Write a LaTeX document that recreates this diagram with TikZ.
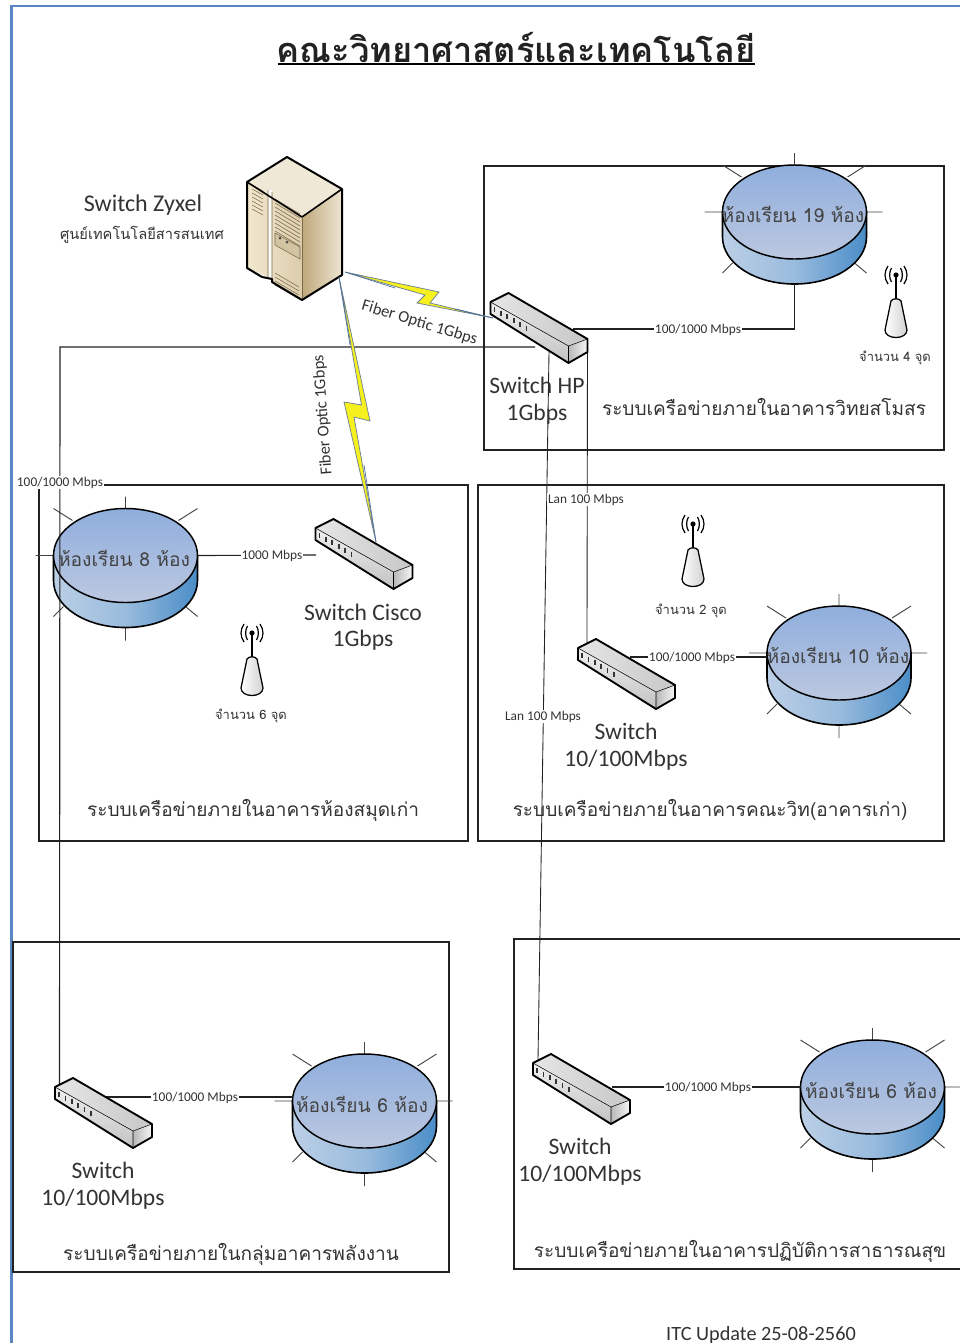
\documentclass[tikz,border=0pt]{standalone}
\usepackage{fontspec}
\setmainfont{Carlito}
\newfontfamily\thaifont[Script=Thai]{Loma}
\definecolor{ink}{HTML}{222222}
\definecolor{txt}{HTML}{333333}
\definecolor{framec}{HTML}{5B86C4}
\definecolor{diskt}{HTML}{8FAEDD}
\definecolor{diskb}{HTML}{BCC8E0}
\definecolor{sidel}{HTML}{BBCFE6}
\definecolor{sider}{HTML}{4A8DC8}
\definecolor{boltc}{HTML}{F5F01E}
\definecolor{boltl}{HTML}{6F8290}
\definecolor{srvtop}{HTML}{EFE8D6}
\definecolor{srvfl}{HTML}{F2E8CF}
\definecolor{srvfr}{HTML}{DCCDAC}
\definecolor{srvrl}{HTML}{BFA97C}
\definecolor{srvrr}{HTML}{EDE5D2}
\definecolor{srvln}{HTML}{7A6A4A}
\tikzset{
  x=0.75pt,y=-0.75pt,
  boxn/.style={draw=ink,line width=0.85pt},
  conn/.style={draw=ink,line width=0.85pt},
  lab/.style={font=\fontsize{10}{11}\selectfont,text=txt,fill=white,inner sep=0.6pt},
  sname/.style={font=\fontsize{17.7}{20}\selectfont,text=txt,inner sep=0pt,align=center},
  room/.style={font=\thaifont\fontsize{14.4}{16}\selectfont,text=ink!85,inner sep=0pt},
  sys/.style={font=\thaifont\fontsize{14.3}{16}\selectfont,text=txt,inner sep=0pt},
  count/.style={font=\thaifont\fontsize{9.7}{11}\selectfont,text=txt,inner sep=0pt},
  bolt/.style={draw=boltl,line width=0.55pt,fill=boltc,line join=miter},
  swicon/.pic={
    \coordinate (-c) at (0,0);
    \shade[top color=black!6,bottom color=black!24] (-48,-27) -- (30,17) -- (30,34) -- (-48,-15) -- cycle;
    \shade[left color=black!10,right color=black!22] (-48,-27) -- (-30,-36) -- (49,10) -- (30,17) -- cycle;
    \shade[left color=black!28,right color=black!3] (30,17) -- (49,10) -- (49,23) -- (30,34) -- cycle;
    \draw[black,line width=0.4pt] (-48,-27) -- (30,17) -- (30,34) (30,17) -- (49,10);
    \draw[black,line width=1.4pt,line join=round] (-48,-27) -- (-30,-36) -- (49,10) -- (49,23) -- (30,34) -- (-48,-15) -- cycle;
    \foreach \k in {0,...,5}{\draw[black!80,line width=1.3pt] (-44+6.4*\k,-22+3.7*\k) -- ++(0,5);}
  },
  diskicon/.pic={
    \draw[ink!85,line width=0.7pt]
      (0,-59) -- (0,-47) (-72,-47) -- (-53,-35) (72,-47) -- (53,-35)
      (-90,0) -- (-72,0) (72,0) -- (88,0)
      (-72,61) -- (-62,51) (72,61) -- (60,51) (0,72) -- (0,85);
    \coordinate (-s) at (0,72); \coordinate (-w) at (-72,0); \coordinate (-e) at (72,0);
    \shade[left color=sidel,right color=sider,middle color=sidel!70!sider,draw=black,line width=1.2pt]
      (-72,0) -- (-72,25) .. controls (-72,51) and (-40,72) .. (0,72) .. controls (40,72) and (72,51) .. (72,25) -- (72,0) -- cycle;
    \shade[top color=diskt,bottom color=diskb,draw=black,line width=1.1pt]
      (-72,0) .. controls (-72,-26) and (-40,-47) .. (0,-47) .. controls (40,-47) and (72,-26) .. (72,0)
      .. controls (72,26) and (40,47) .. (0,47) .. controls (-40,47) and (-72,26) .. (-72,0) -- cycle;
  },
  anticon/.pic={
    \draw[black,line width=0.9pt] (-4.5,-7) .. controls (-7,-3) and (-7,3) .. (-4.5,7)
      (-8,-9) .. controls (-12,-3) and (-12,3) .. (-8,9)
      (4.5,-7) .. controls (7,-3) and (7,3) .. (4.5,7)
      (8,-9) .. controls (12,-3) and (12,3) .. (8,9);
    \draw[black,line width=1.1pt] (0,0) -- (0,26);
    \fill[black] (0,0) circle[radius=2.6];
    \shade[left color=white,right color=black!18,draw=black,line width=0.95pt]
      (-5,26) .. controls (-3,23) and (3,23) .. (5,26) -- (11,55) .. controls (11,65) and (-11,65) .. (-11,55) -- cycle;
  },
  servericon/.pic={
    \shade[left color=srvfl,right color=srvfr]
      (247,182) -- (302,217) -- (302,300) -- (272,282) -- (272,279) -- (247,268) -- cycle;
    \path[fill=srvtop] (287,157) -- (342,189) -- (302,217) -- (247,182) -- cycle;
    \shade[left color=srvrl,right color=srvrr]
      (302,217) -- (342,189) -- (342,275) -- (302,300) -- cycle;
    \fill[white!92!srvfl] (268,190) rectangle (272,279);
    \draw[srvln,line width=0.4pt]
      foreach \k in {0,...,6}{(252,185+4*\k) -- (263,191+4*\k)}
      foreach \k in {0,...,9}{(275,199+4*\k) -- (300,214+4*\k)}
      foreach \k in {0,...,3}{(275,273+4*\k) -- (299,287+4*\k)}
      (268,190) -- (268,279) (272,192) -- (272,279);
    \draw[srvln,line width=0.4pt,fill=srvrl!70!white] (275,233) -- (300,247) -- (300,259) -- (275,245) -- cycle;
    \fill[black!70] (280,238) circle[radius=1.5] (287,242) circle[radius=1.5];
    \draw[black,line width=1.2pt] (247,182) -- (302,217) -- (342,189);
    \draw[srvln,line width=0.6pt] (302,217) -- (302,300);
    \draw[black,line width=1.5pt,line join=round] (287,157) -- (342,189) -- (342,275) -- (302,300) -- (272,282) -- (272,279) -- (262,277) -- (247,268) -- (247,182) -- cycle;
  }
}
\begin{document}
\begin{tikzpicture}
\useasboundingbox (0,0) rectangle (960,1343);
\clip (0,0) rectangle (960,1343);
\fill[white] (0,0) rectangle (960,1343);
% page frame
\draw[framec,line width=1.9pt] (11.5,1350) -- (11.5,6) -- (970,6);
% building boxes
\draw[boxn] (484,166) rectangle (944,450);
\draw[boxn] (39,485) rectangle (468,841);
\draw[boxn] (478,485) rectangle (944,841);
\draw[boxn] (13,942) rectangle (449,1272);
\draw[boxn] (514,939) rectangle (975,1269);
% anchors
\coordinate (srvA) at (345,272);
\coordinate (srvB) at (339,277);
\coordinate (hpIn) at (493,318);
\coordinate (hpE) at (573,329);
\coordinate (hpW) at (535,347);
\coordinate (hpS1) at (549,352);
\coordinate (hpS2) at (587.5,340);
\coordinate (ciscoIn) at (376,542);
\coordinate (ciscoW) at (316,555);
\coordinate (cornerA) at (60,347);
\coordinate (swLin) at (59.5,1084);
\coordinate (swLe) at (100,1097);
\coordinate (swRin) at (538,1060);
\coordinate (swRe) at (612,1087);
\coordinate (swMin) at (587,645);
\coordinate (swMe) at (630,657);
% disks
\pic (r19) at (794.5,212) {diskicon};
\pic (r8) at (125.5,555.5) {diskicon};
\pic (r10) at (839,653) {diskicon};
\pic (r6a) at (364.5,1101) {diskicon};
\pic (r6b) at (872.5,1087) {diskicon};
% connectors
\draw[conn] (hpW) -- (cornerA) -- (swLin);
\draw[conn] (hpE) -| (r19-s);
\draw[conn,line width=0.65pt] (hpS2) -- (swMin);
\draw[conn,line width=0.65pt] (hpS1) -- (swRin);
\draw[conn] (ciscoW) -- (r8-e);
\draw[conn] (swMe) -- (r10-w |- swMe);
\draw[conn] (swLe) -- (r6a-w |- swLe);
\draw[conn] (swRe) -- (r6b-w |- swRe);
% switches
\pic (hp) at (538.5,329) {swicon};
\pic (cisco) at (363.5,555) {swicon};
\pic (swm) at (626,675) {swicon};
\pic (swl) at (103,1114) {swicon};
\pic (swr) at (581,1090) {swicon};
% server
\pic (srv) at (0,0) {servericon};
% fiber bolts
\draw[bolt] (srvA) -- (439,292) -- (430,303) -- (hpIn) -- (417,303) -- (425,295) -- cycle;
\draw[bolt] (srvB) -- (370,421) -- (354,417) -- (ciscoIn) -- (344,402) -- (361.5,405) -- cycle;
\draw[framec!80!black,line width=0.5pt] (srvA) -- (395,288) (hpIn) -- (455,309) (srvB) -- (350,345) (ciscoIn) -- (364,465);
% antennas
\pic (a1) at (896,275) {anticon};
\pic (a2) at (252,633) {anticon};
\pic (a3) at (693,524) {anticon};
% labels on connectors
\node[lab] (l1) at (698,329.5) {100/1000 Mbps};
\node[lab] (l2) at (60,482.5) {100/1000 Mbps};
\node[lab] (l3) at (272,555.5) {1000 Mbps};
\node[lab] (l4) at (586,499.5) {Lan 100 Mbps};
\node[lab] (l5) at (543,716.5) {Lan 100 Mbps};
\node[lab] (l6) at (692,657.5) {100/1000 Mbps};
\node[lab] (l7) at (195,1097.5) {100/1000 Mbps};
\node[lab] (l8) at (708,1087.5) {100/1000 Mbps};
\node[font=\fontsize{12.4}{14}\selectfont,text=txt,rotate=-17,inner sep=0pt] (f1) at (419.5,323) {Fiber Optic 1Gbps};
\node[font=\fontsize{12.4}{14}\selectfont,text=txt,rotate=94,inner sep=0pt] (f2) at (323,415) {Fiber Optic 1Gbps};
% title
\node[font=\thaifont\bfseries\fontsize{25.8}{28}\selectfont,text=ink,inner sep=0pt] (title) at (516,47) {คณะวิทยาศาสตร์และเทคโนโลยี};
\draw[black,line width=1.2pt] (278,64) -- (755,64);
% server caption
\node[sname,font=\fontsize{18}{20}\selectfont] (zyxel) at (143,205) {Switch Zyxel};
\node[font=\thaifont\fontsize{11}{13}\selectfont,text=txt,inner sep=0pt] (itc) at (142,235) {ศูนย์เทคโนโลยีสารสนเทศ};
% switch captions
\node[sname] (n1) at (537,385.5) {Switch HP};
\node[sname] (n2) at (537,414.5) {1Gbps};
\node[sname] (n3) at (363,612.5) {Switch Cisco};
\node[sname] (n4) at (363,640.5) {1Gbps};
\node[sname] (n5) at (626,731.5) {Switch};
\node[sname] (n6) at (626,760.5) {10/100Mbps};
\node[sname] (n7) at (103,1170.5) {Switch};
\node[sname] (n8) at (103,1199.5) {10/100Mbps};
\node[sname] (n9) at (580,1146.5) {Switch};
\node[sname] (n10) at (580,1175.5) {10/100Mbps};
% rooms
\node[room] (t19) at (793,214) {ห้องเรียน 19 ห้อง};
\node[room] (t8) at (124,558) {ห้องเรียน 8 ห้อง};
\node[room] (t10) at (838,655) {ห้องเรียน 10 ห้อง};
\node[room] (t6a) at (362,1104) {ห้องเรียน 6 ห้อง};
\node[room] (t6b) at (871,1090) {ห้องเรียน 6 ห้อง};
% counts
\node[count] (c1) at (895,358) {จำนวน 4 จุด};
\node[count] (c2) at (251,716) {จำนวน 6 จุด};
\node[count] (c3) at (691,611) {จำนวน 2 จุด};
% systems
\node[sys] (s1) at (764,406.5) {ระบบเครือข่ายภายในอาคารวิทยสโมสร};
\node[sys] (s2) at (253,810.5) {ระบบเครือข่ายภายในอาคารห้องสมุดเก่า};
\node[sys] (s3) at (710,810) {ระบบเครือข่ายภายในอาคารคณะวิท(อาคารเก่า)};
\node[sys] (s4) at (231,1254.5) {ระบบเครือข่ายภายในกลุ่มอาคารพลังงาน};
\node[sys] (s5) at (740,1251.5) {ระบบเครือข่ายภายในอาคารปฏิบัติการสาธารณสุข};
\node[font=\fontsize{15.2}{17}\selectfont,text=txt,inner sep=0pt] (upd) at (761,1335) {ITC Update 25-08-2560};
\end{tikzpicture}
\end{document}
